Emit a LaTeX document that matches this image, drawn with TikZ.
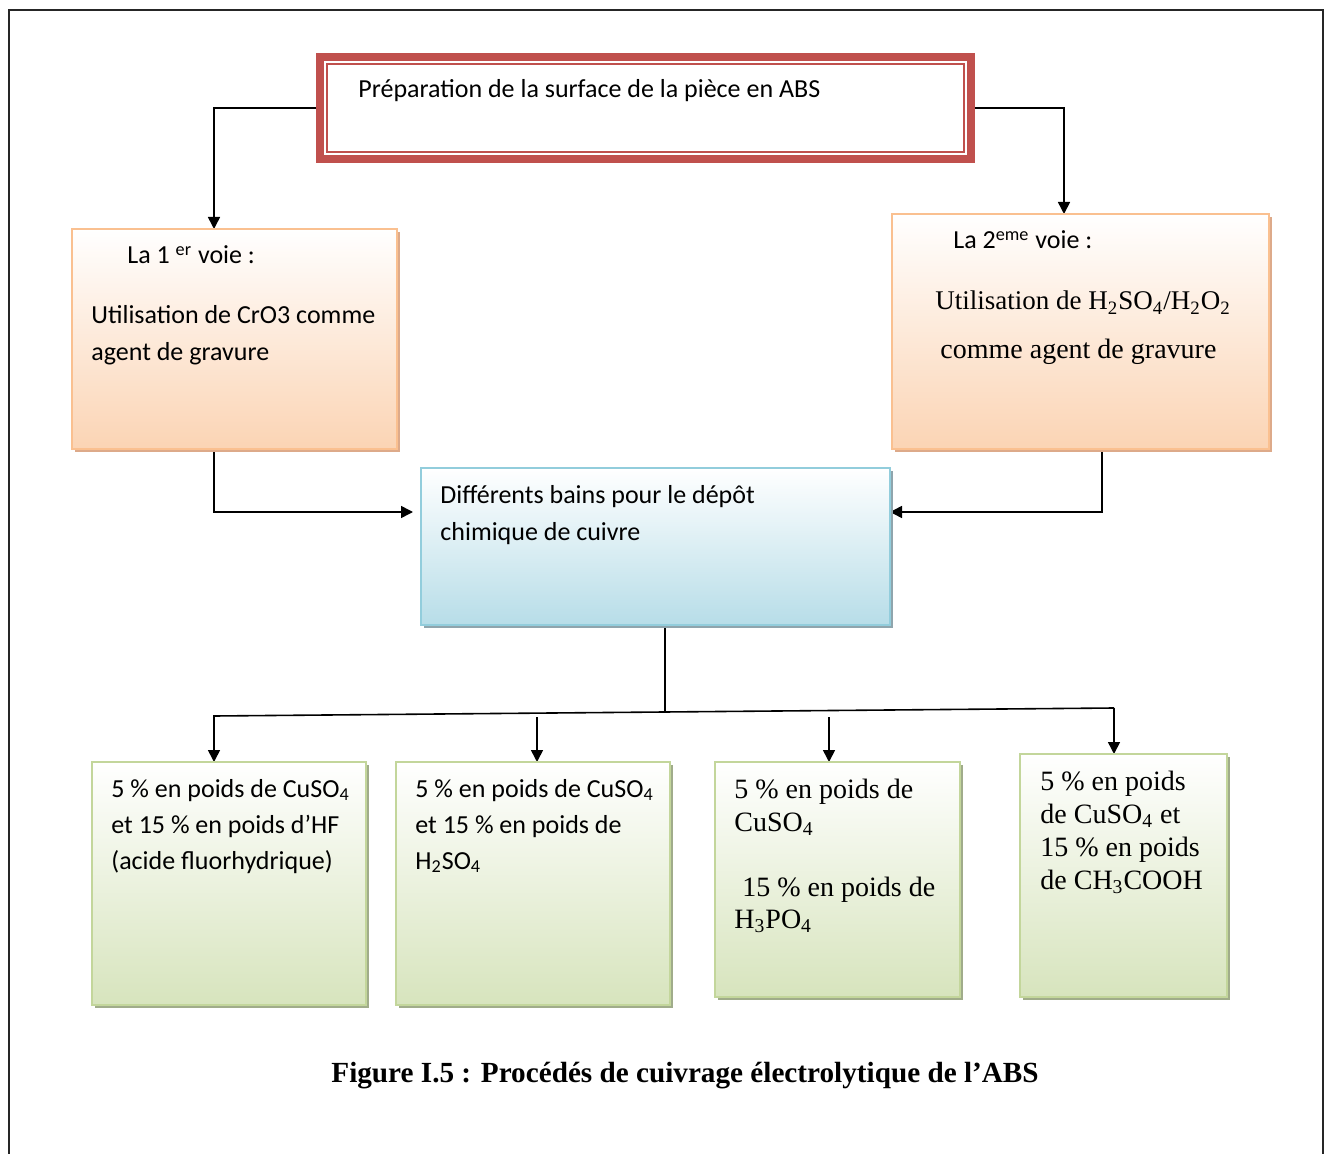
\documentclass[tikz,border=0pt]{standalone}
\usepackage{fontspec}
\setmainfont{Liberation Serif}
\newfontfamily\calibrifont{Carlito}
\usetikzlibrary{arrows.meta,shadows,backgrounds}

\definecolor{redline}{HTML}{C0504D}
\definecolor{orangeline}{HTML}{FAC090}
\definecolor{orangefill}{HTML}{FBD4B4}
\definecolor{orangeshadow}{HTML}{DDAA8A}
\definecolor{blueline}{HTML}{92CDDC}
\definecolor{bluefill}{HTML}{B7DDE8}
\definecolor{blueshadow}{HTML}{8FA5AD}
\definecolor{greenline}{HTML}{C3D69B}
\definecolor{greenfill}{HTML}{D7E4BD}
\definecolor{greenshadow}{HTML}{A0AC8A}

\begin{document}
\begin{tikzpicture}[x=0.5pt,y=-0.5pt,
  arr/.style={-{Triangle[length=6pt,width=6pt]}, line width=0.8pt},
  link/.style={line width=0.8pt},
  panel/.style={rectangle, inner sep=0pt, outer sep=0pt, line width=1pt},
  orangebox/.style={panel, draw=orangeline, top color=white, bottom color=orangefill,
    general shadow={fill=orangeshadow, shadow xshift=1.5pt, shadow yshift=-1.5pt}},
  bluebox/.style={panel, draw=blueline, top color=white, bottom color=bluefill,
    general shadow={fill=blueshadow, shadow xshift=1.5pt, shadow yshift=-1.5pt}},
  greenbox/.style={panel, draw=greenline, top color=white, bottom color=greenfill,
    general shadow={fill=greenshadow, shadow xshift=1.5pt, shadow yshift=-1.5pt}},
  sanstext/.style={anchor=base west, inner sep=0pt, font=\calibrifont\fontsize{13}{18}\selectfont},
  seriftext/.style={anchor=base west, inner sep=0pt, font=\fontsize{14}{17}\selectfont},
]
\useasboundingbox (0,0) rectangle (1326,1154);

% page frame, open at the bottom
\draw[line width=1pt, black!85] (9,1154) -- (9,10) -- (1323,10) -- (1323,1154);

% surface preparation box with double red border
\node[rectangle, inner sep=0pt, outer sep=0pt, draw=redline, line width=4pt, fill=white,
      minimum width=325.5pt, minimum height=51pt] (prep) at (645.5,108) {};
\draw[redline, line width=1pt] ([shift={(3.5pt,-3.5pt)}]prep.north west)
  rectangle ([shift={(-3.5pt,3.5pt)}]prep.south east);
\node[sanstext] (prept) at (358,98) {Préparation de la surface de la pièce en ABS};

% the two etching routes
\node[orangebox, minimum width=162.5pt, minimum height=110pt] (b1) at (234.5,339) {};
\node[orangebox, minimum width=188.5pt, minimum height=117.5pt] (b2) at (1080.5,331.5) {};

% copper deposition box
\node[bluebox, minimum width=234.5pt, minimum height=78.5pt] (c) at (655.5,546.5) {};

% the four baths
\node[greenbox, minimum width=137pt, minimum height=121.5pt] (g1) at (229,883.5) {};
\node[greenbox, minimum width=137pt, minimum height=121.5pt] (g2) at (533,883.5) {};
\node[greenbox, minimum width=122.5pt, minimum height=117.5pt] (g3) at (837.5,879.5) {};
\node[greenbox, minimum width=103.5pt, minimum height=121.5pt] (g4) at (1123.5,875.5) {};

% texts
\node[sanstext] (b1t1) at (127,264) {La 1 \textsuperscript{er} voie :};
\node[sanstext] (b1t2) at (91,324) {Utilisation de CrO3 comme};
\node[sanstext] (b1t3) at (91,361) {agent de gravure};

\node[sanstext] (b2t1) at (953,249) {La 2\textsuperscript{eme} voie :};
\node[seriftext, font=\fontsize{13.5}{17}\selectfont] (b2t2) at (935,310)
  {Utilisation de H\textsubscript{2}SO\textsubscript{4}/H\textsubscript{2}O\textsubscript{2}};
\node[seriftext] (b2t3) at (940,359) {comme agent de gravure};

\node[sanstext] (ct1) at (440,503) {Différents bains pour le dépôt};
\node[sanstext] (ct2) at (440,540) {chimique de cuivre};

\node[sanstext] (g1t1) at (111,797) {5 \% en poids de CuSO\textsubscript{4}};
\node[sanstext] (g1t2) at (111,833) {et 15 \% en poids d’HF};
\node[sanstext] (g1t3) at (111,869) {(acide fluorhydrique)};

\node[sanstext] (g2t1) at (415,797) {5 \% en poids de CuSO\textsubscript{4}};
\node[sanstext] (g2t2) at (415,833) {et 15 \% en poids de};
\node[sanstext] (g2t3) at (415,869) {H\textsubscript{2}SO\textsubscript{4}};

\node[seriftext] (g3t1) at (734,798) {5 \% en poids de};
\node[seriftext] (g3t2) at (734,831) {CuSO\textsubscript{4}};
\node[seriftext] (g3t3) at (742,896) {15 \% en poids de};
\node[seriftext] (g3t4) at (734,928) {H\textsubscript{3}PO\textsubscript{4}};

\node[seriftext] (g4t1) at (1040,790) {5 \% en poids};
\node[seriftext] (g4t2) at (1040,823) {de CuSO\textsubscript{4} et};
\node[seriftext] (g4t3) at (1040,856) {15 \% en poids};
\node[seriftext] (g4t4) at (1040,889) {de CH\textsubscript{3}COOH};

% caption
\node[anchor=base, inner sep=0pt, font=\bfseries\fontsize{14.6}{17}\selectfont] (cap) at (685,1082)
  {Figure I.5 : Procédés de cuivrage électrolytique de l’ABS};

% connectors
\coordinate (hl) at (214,716);
\coordinate (hr) at (1114,708);
\begin{scope}[on background layer]
  \draw[arr] (prep.west) -| ([xshift=-10.25pt]b1.north);
  \draw[arr] (prep.east) -| ([xshift=-8.25pt]b2.north);
  \draw[arr, shorten >=4pt] ([xshift=-10.25pt]b1.south) |- ([yshift=17.25pt]c.west);
  \draw[arr] ([xshift=10.75pt]b2.south) |- ([yshift=17.25pt]c.east);
  \draw[link] ([xshift=4.75pt]c.south) -- ++(0pt,-43.5pt);
  \draw[arr] (hr) -- (hl) -- ([xshift=-7.5pt]g1.north);
  \draw[arr] (hr) -- ([xshift=-4.75pt]g4.north);
  \draw[arr] ([xshift=2pt,yshift=22.5pt]g2.north) -- ([xshift=2pt]g2.north);
  \draw[arr] ([xshift=-4.25pt,yshift=22.5pt]g3.north) -- ([xshift=-4.25pt]g3.north);
\end{scope}
\end{tikzpicture}
\end{document}
